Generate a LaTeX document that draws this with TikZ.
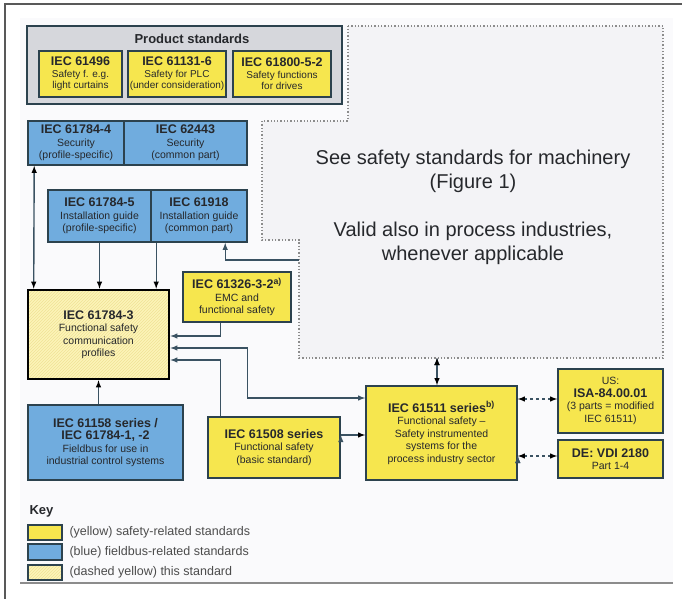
\documentclass[tikz,border=0pt]{standalone}
\usepackage{fontspec}
\setmainfont{Liberation Sans}
\usetikzlibrary{arrows, patterns, shadows}
\definecolor{safetyyellow}{RGB}{246,230,78}
\definecolor{fieldbusblue}{RGB}{112,172,222}
\definecolor{boxrim}{RGB}{44,66,78}
\definecolor{wire}{RGB}{58,82,98}
\definecolor{productgray}{RGB}{214,215,220}
\definecolor{paleyellow}{RGB}{252,244,184}
\definecolor{hatchyellow}{RGB}{240,226,150}
\definecolor{panel}{RGB}{250,250,252}
\definecolor{machinegray}{RGB}{243,243,246}
\definecolor{inkgray}{RGB}{38,40,44}
\newcommand{\stdname}[1]{{\fontsize{12.5}{14}\selectfont\bfseries #1}}

\begin{document}
\begin{tikzpicture}[x = 1pt, y = -1pt, >=latex,
    stdbox/.style = {draw = boxrim, line width = 1.6pt, align = center, inner sep = 1pt, text = inkgray,
                     font = \fontsize{10.5}{12.5}\selectfont,
                     drop shadow = {shadow xshift = 1.2pt, shadow yshift = -1.2pt, fill = black, opacity = .35}},
    safety/.style = {stdbox, fill = safetyyellow},
    fieldbus/.style = {stdbox, fill = fieldbusblue},
    thisstd/.style = {draw = black, line width = 2.6pt, align = center, inner sep = 1pt, text = inkgray,
                      font = \fontsize{10.5}{12.5}\selectfont, preaction = {fill = paleyellow},
                      pattern = north east lines, pattern color = hatchyellow},
    tinytext/.style = {font = \fontsize{10}{11.5}\selectfont},
    product/.style = {draw = boxrim, line width = 1.4pt, fill = productgray},
    note/.style = {align = center, text = inkgray, font = \fontsize{20}{24}\selectfont},
    keytext/.style = {anchor = west, text = black!70, font = \fontsize{12.5}{14}\selectfont},
    wiring/.style = {draw = wire, line width = 1.4pt}]
  \useasboundingbox (0,0) rectangle (682,599);
  \fill[panel] (20,18) rectangle (673,583);
  \draw[black!45, line width = 1.5pt] (20,583) -- (673,583);
  \draw[black!65, line width = 1.2pt] (5,599) -- (5,4) -- (682,4);

  \filldraw[fill = machinegray, draw = black!45, line width = 1.3pt, dotted]
    (348,26) -- (663,26) -- (663,358) -- (299,358) -- (299,240) -- (262,240) -- (262,121) -- (348,121) -- cycle;
  \node (seefig) [note] at (473,171) {See safety standards for machinery\\(Figure 1)};
  \node (valid) [note] at (473,243) {Valid also in process industries,\\whenever applicable};
  \coordinate (machw) at (299,260);
  \coordinate (machs) at (437,358);

  \node (prod) [product, minimum width = 315, minimum height = 78] at (184.5,65) {};
  \node (prodtitle) [text = inkgray, font = \fontsize{13}{15}\selectfont\bfseries] at (192,39) {Product standards};
  \node (s61496) [safety, tinytext, minimum width = 83, minimum height = 46] at (80.5,74)
    {\stdname{IEC 61496}\\Safety f. e.g.\\light curtains};
  \node (s61131) [safety, tinytext, minimum width = 98, minimum height = 46] at (177,74)
    {\stdname{IEC 61131-6}\\Safety for PLC\\(under consideration)};
  \node (s61800) [safety, tinytext, minimum width = 98, minimum height = 46] at (282,74)
    {\stdname{IEC 61800-5-2}\\Safety functions\\for drives};

  \node (b617844) [fieldbus, minimum width = 96, minimum height = 44] at (76,143)
    {\stdname{IEC 61784-4}\\Security\\(profile-specific)};
  \node (b62443) [fieldbus, minimum width = 123, minimum height = 44] at (185.5,143)
    {\stdname{IEC 62443}\\Security\\(common part)};
  \node (b617845) [fieldbus, minimum width = 103, minimum height = 52] at (99.5,216)
    {\stdname{IEC 61784-5}\\Installation guide\\(profile-specific)};
  \node (b61918) [fieldbus, minimum width = 96, minimum height = 52] at (199,216)
    {\stdname{IEC 61918}\\Installation guide\\(common part)};

  \node (m617843) [thisstd, minimum width = 141, minimum height = 89] at (98.5,334.5)
    {\stdname{IEC 61784-3}\\Functional safety\\communication\\profiles};
  \node (s61326) [safety, minimum width = 108, minimum height = 50] at (237,297)
    {\stdname{IEC 61326-3-2\textsuperscript{a)}}\\EMC and\\functional safety};
  \node (b61158) [fieldbus, minimum width = 155, minimum height = 75] at (105.5,442.5)
    {\stdname{IEC 61158 series /}\\\stdname{IEC 61784-1, -2}\\Fieldbus for use in\\industrial control systems};
  \node (s61508) [safety, minimum width = 132, minimum height = 61] at (274,447.5)
    {\stdname{IEC 61508 series}\\Functional safety\\(basic standard)};
  \node (s61511) [safety, minimum width = 151, minimum height = 94] at (441.5,433)
    {\stdname{IEC 61511 series\textsuperscript{b)}}\\Functional safety --\\Safety instrumented\\systems for the\\process industry sector};
  \node (sus) [safety, minimum width = 105, minimum height = 64] at (610.5,401)
    {US:\\\stdname{ISA-84.00.01}\\(3 parts = modified\\IEC 61511)};
  \node (sde) [safety, minimum width = 105, minimum height = 38] at (610.5,459)
    {\stdname{DE: VDI 2180}\\Part 1-4};

  \path[wiring, <->] ([xshift = 7pt]b617844.south west) edge ([xshift = 7pt]m617843.north west)
                     (machs) edge (machs |- s61511.north);
  \path[wiring, ->] (b617845.south) edge (b617845.south |- m617843.north)
                    ([xshift = 6pt]b61918.south west) edge ([xshift = 6pt]b61918.south west |- m617843.north)
                    (m617843.south |- b61158.north) edge (m617843.south)
                    ([yshift = -2pt]s61508.east |- s61511.west) edge ([yshift = -2pt]s61511.west);
  \draw[wiring, ->] (machw) -| ([xshift = 75pt]b61918.south west);
  \draw[wiring, ->] ([xshift = 38pt]s61326.south west) |- ([yshift = -1.5pt]m617843.east);
  \draw[wiring, <->] ([yshift = -13.5pt]m617843.east) -- ++(77,0) |- ([yshift = 35pt]s61511.west);
  \draw[wiring, ->] ([xshift = 13pt]s61508.north west) |- ([yshift = -25.5pt]m617843.east);
  \path[wiring, <->, dashed] ([yshift = 2pt]s61511.east |- sus.west) edge ([yshift = 2pt]sus.west)
                             ([yshift = 3pt]s61511.east |- sde.west) edge ([yshift = 3pt]sde.west);

  \node (key) [anchor = west, text = inkgray, font = \fontsize{13}{15}\selectfont\bfseries] at (26,511) {Key};
  \node (keyyellow) [safety, minimum width = 34, minimum height = 15] at (45,532.5) {};
  \node (keyblue) [fieldbus, minimum width = 34, minimum height = 16] at (45,552) {};
  \node (keythis) [thisstd, line width = 1.4pt, draw = boxrim, minimum width = 34, minimum height = 15] at (45,572.5) {};
  \node (keyyellowtext) [keytext] at (66,532.5) {(yellow) safety-related standards};
  \node (keybluetext) [keytext] at (66,552) {(blue) fieldbus-related standards};
  \node (keythistext) [keytext] at (66,572.5) {(dashed yellow) this standard};
\end{tikzpicture}
\end{document}
